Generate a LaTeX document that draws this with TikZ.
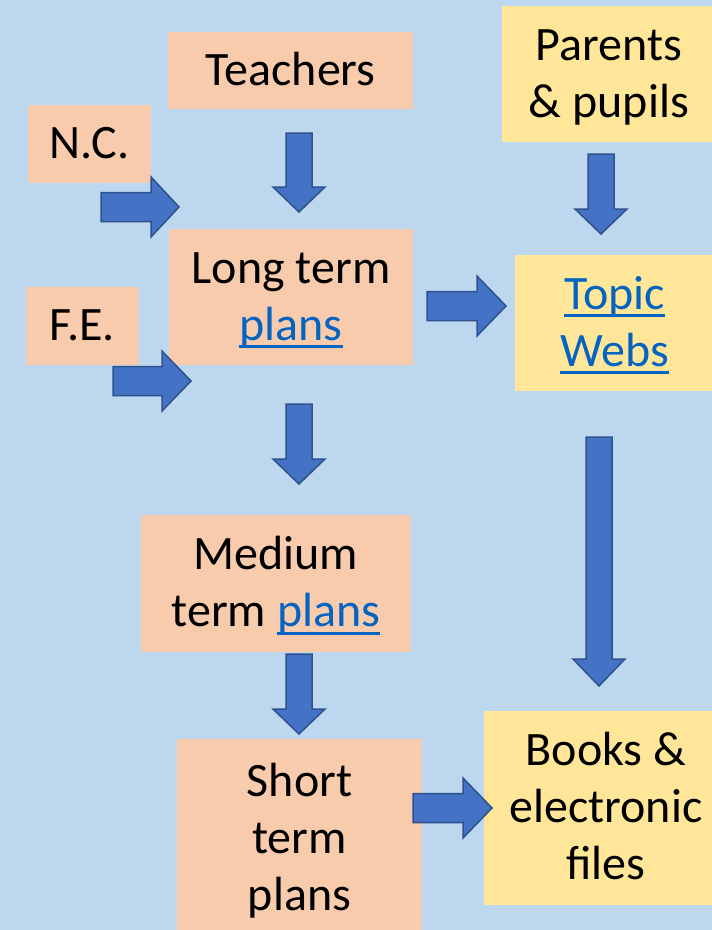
\documentclass[tikz,border=0pt]{standalone}
\usepackage{fontspec}
\setmainfont{Carlito}
\definecolor{bgc}{HTML}{BDD7EE}
\definecolor{peach}{HTML}{F8CBAD}
\definecolor{yel}{HTML}{FFE699}
\definecolor{arrfill}{HTML}{4472C4}
\definecolor{arrline}{HTML}{2F528F}
\definecolor{linkc}{HTML}{0563C1}
\newcommand\lnk[1]{{\color{linkc}\setbox0\hbox{#1}\rlap{\rule[-8pt]{\wd0}{3pt}}\box0}}
\newcommand\ls{\rule[-14pt]{0pt}{57pt}}
\newcommand\RArrowShape[4]{%
  \fill[barrow] (#1,{#4-14.5}) -- (#2,{#4-14.5}) -- (#2,{#4-30}) -- (#3,#4) -- (#2,{#4+30}) -- (#2,{#4+14.5}) -- (#1,{#4+14.5}) -- cycle;}
\newcommand\DArrowShape[4]{%
  \fill[barrow] ({#1-13},#2) -- ({#1+13},#2) -- ({#1+13},#3) -- ({#1+26},#3) -- (#1,#4) -- ({#1-26},#3) -- ({#1-13},#3) -- cycle;}
\tikzset{
  box/.style={rectangle, inner sep=0pt, align=center, text=black,
    font=\fontsize{48}{57}\selectfont},
  pbox/.style={box, fill=peach},
  ybox/.style={box, fill=yel},
  barrow/.style={fill=arrfill, draw=arrline, line width=1.5pt, line join=miter},
}
\begin{document}
\begin{tikzpicture}[x=1pt,y=-1pt]
\fill[bgc] (0,0) rectangle (712,930);
\useasboundingbox (0,0) rectangle (712,930);
% boxes
\node[pbox, minimum width=245pt, minimum height=77pt] (teachers) at (290.5,70.5) {\ls Teachers};
\node[pbox, minimum width=123pt, minimum height=78pt] (nc) at (89.5,144) {\ls N.C.};
\node[pbox, minimum width=113pt, minimum height=78pt] (fe) at (82.5,326) {\ls F.E.};
\node[pbox, minimum width=244pt, minimum height=136pt] (longterm) at (291,297) {\ls Long term\\\ls\lnk{plans}};
\node[ybox, minimum width=214pt, minimum height=136pt] (parents) at (609,74) {\ls Parents\\\ls\& pupils};
\node[ybox, minimum width=199pt, minimum height=136pt] (topic) at (614.5,323) {\ls\lnk{Topic}\\\ls\lnk{Webs}};
\node[pbox, minimum width=270pt, minimum height=137pt] (medium) at (276,583.5) {\ls Medium\\\ls term \lnk{plans}};
\node[pbox, minimum width=245pt, minimum height=199pt] (short) at (299.5,838.6) {\ls Short\\\ls term\\\ls plans};
\node[ybox, minimum width=244pt, minimum height=194pt] (books) at (606,808) {\ls Books \&\\\ls electronic\\\ls files};
% block arrows
\DArrowShape{299}{133}{187}{212}
\DArrowShape{601}{154}{209}{234}
\DArrowShape{299}{404}{459}{484}
\DArrowShape{599}{437}{659}{686}
\DArrowShape{299}{654}{709}{734}
\RArrowShape{101}{151}{179}{207}
\RArrowShape{113}{162}{191}{381}
\RArrowShape{427}{477}{506}{306}
\RArrowShape{413}{463}{492}{808}
\end{tikzpicture}
\end{document}
